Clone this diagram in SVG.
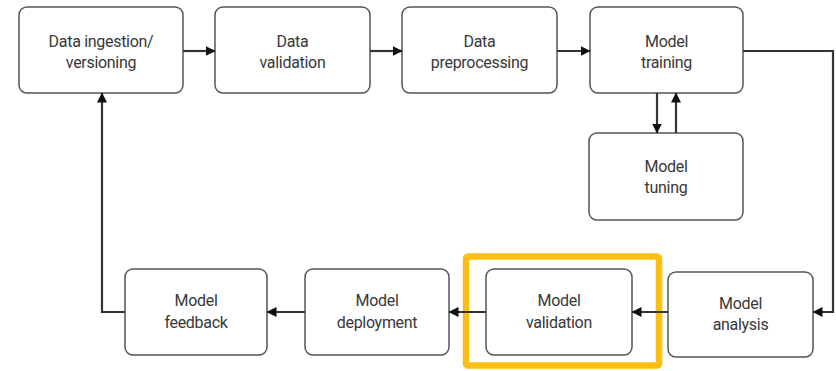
<svg xmlns="http://www.w3.org/2000/svg" width="836" height="371" viewBox="0 0 836 371">
<style>
.box{fill:#fff;stroke:#555;stroke-width:1.5}
.lbl{font-family:Roboto,"Liberation Sans",sans-serif;font-size:16px;letter-spacing:-0.3px;fill:#383838;text-anchor:middle}
.ln{fill:none;stroke:#333;stroke-width:2.2}
</style>
<defs>
<marker id="ah" viewBox="0 0 10 10" refX="9.5" refY="5" markerWidth="10" markerHeight="10" markerUnits="userSpaceOnUse" orient="auto">
<path d="M0,0 L10,5 L0,10 z" fill="#111"/>
</marker>
</defs>
<rect width="836" height="371" fill="#fff"/>
<rect x="466" y="256.5" width="193" height="109" fill="none" stroke="#FBBF14" stroke-width="6.5" rx="2"/>
<g id="n1"><rect class="box" x="19" y="7" width="164" height="86" rx="8"/><text class="lbl" x="101" y="47">Data ingestion/</text><text class="lbl" x="101" y="68">versioning</text></g>
<g id="n2"><rect class="box" x="215" y="7" width="155" height="86" rx="8"/><text class="lbl" x="292.5" y="47">Data</text><text class="lbl" x="292.5" y="68">validation</text></g>
<g id="n3"><rect class="box" x="402" y="7" width="155" height="86" rx="8"/><text class="lbl" x="479.5" y="47">Data</text><text class="lbl" x="479.5" y="68">preprocessing</text></g>
<g id="n4"><rect class="box" x="590" y="7" width="153" height="86" rx="8"/><text class="lbl" x="666.5" y="47">Model</text><text class="lbl" x="666.5" y="68">training</text></g>
<g id="n5"><rect class="box" x="589" y="133" width="154" height="87" rx="8"/><text class="lbl" x="666" y="172">Model</text><text class="lbl" x="666" y="193">tuning</text></g>
<g id="n6"><rect class="box" x="668" y="272" width="145" height="85" rx="8"/><text class="lbl" x="740.5" y="309">Model</text><text class="lbl" x="740.5" y="330">analysis</text></g>
<g id="n7"><rect class="box" x="486" y="269" width="146" height="86" rx="8"/><text class="lbl" x="559" y="306">Model</text><text class="lbl" x="559" y="328">validation</text></g>
<g id="n8"><rect class="box" x="305" y="269" width="144" height="86" rx="8"/><text class="lbl" x="377" y="306">Model</text><text class="lbl" x="377" y="328">deployment</text></g>
<g id="n9"><rect class="box" x="125" y="269" width="142" height="86" rx="8"/><text class="lbl" x="196" y="306">Model</text><text class="lbl" x="196" y="328">feedback</text></g>
<g id="connectors">
<path class="ln" d="M183,51 H215" marker-end="url(#ah)"/>
<path class="ln" d="M370,51 H402" marker-end="url(#ah)"/>
<path class="ln" d="M557,51 H590" marker-end="url(#ah)"/>
<path class="ln" d="M657,93 V133" marker-end="url(#ah)"/>
<path class="ln" d="M676,133 V93" marker-end="url(#ah)"/>
<path class="ln" d="M743,51 H833 V312 H813" marker-end="url(#ah)"/>
<path class="ln" d="M668,312 H632" marker-end="url(#ah)"/>
<path class="ln" d="M486,312 H449" marker-end="url(#ah)"/>
<path class="ln" d="M305,312 H267" marker-end="url(#ah)"/>
<path class="ln" d="M125,312 H102 V93" marker-end="url(#ah)"/>
</g>
</svg>
